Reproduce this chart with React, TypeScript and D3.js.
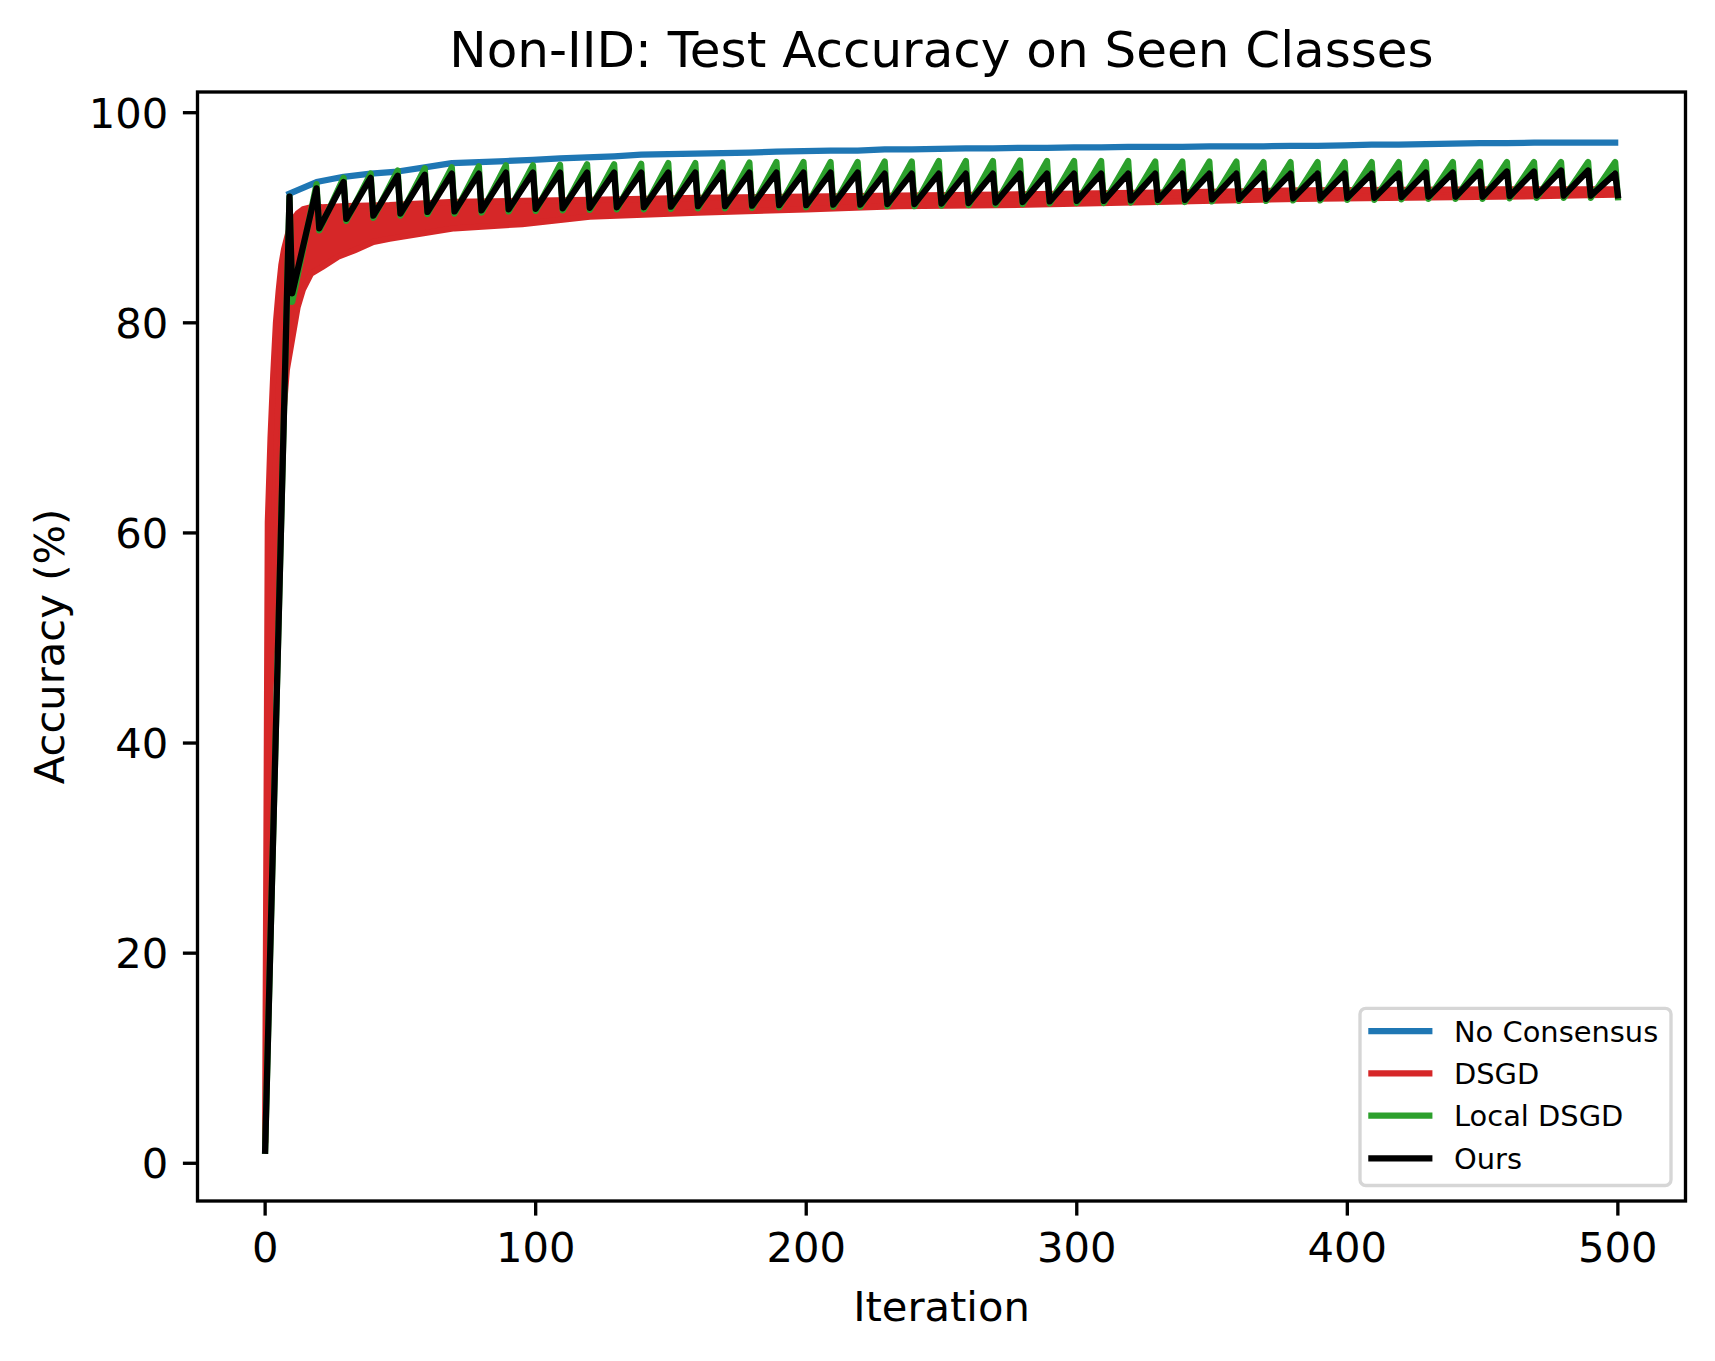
import React from "react";
import * as d3 from "d3";

// ---------------- data ----------------
const xTicks = [0, 100, 200, 300, 400, 500];
const yTicks = [0, 20, 40, 60, 80, 100];

// No Consensus: evaluated at iterations 9, 19, ..., 499
const noConsensus = [
  92.3, 93.4, 93.9, 94.2, 94.4, 94.8, 95.2, 95.3, 95.4, 95.5,
  95.65, 95.75, 95.85, 96.0, 96.05, 96.1, 96.15, 96.2, 96.3, 96.35,
  96.4, 96.4, 96.5, 96.5, 96.55, 96.6, 96.6, 96.65, 96.65, 96.7,
  96.7, 96.75, 96.75, 96.75, 96.8, 96.8, 96.8, 96.85, 96.85, 96.9,
  96.95, 96.95, 97.0, 97.05, 97.1, 97.1, 97.15, 97.15, 97.15, 97.15,
];

// DSGD band (upper / lower envelope)
const dsgdUpperIter = [0, 1, 2, 3, 4, 5, 6, 7, 8, 9, 10, 12, 14, 17, 21, 30, 46, 70, 95, 120, 160, 200, 234, 271, 330, 382, 420, 456, 499];
const dsgdUpper = [2, 61, 69, 75, 80, 83, 85.5, 87, 88, 89, 89.7, 90.4, 90.8, 91.0, 91.0, 91.1, 91.2, 91.5, 91.6, 91.7, 91.9, 92.0, 92.1, 92.2, 92.4, 92.6, 92.65, 92.7, 92.7];
const dsgdLowerIter = [0, 2, 4, 6, 8, 10, 12, 14, 17, 21, 27, 33, 40, 46, 58, 70, 95, 120, 160, 200, 234, 271, 330, 382, 456, 499];
const dsgdLower = [2, 45, 60, 69, 75.5, 78.5, 81.5, 83.2, 84.7, 85.3, 86.3, 86.9, 87.7, 88.0, 88.5, 89.0, 89.4, 90.1, 90.5, 90.8, 91.1, 91.2, 91.5, 91.8, 92.0, 92.2];

// Local DSGD: start, peaks at 10k+9, lows at 10k+10
const localStart = 1.2;
const localPeaks = [
  92.0, 93.2, 93.8, 94.2, 94.5, 94.7, 94.8, 94.9, 95.0, 95.0,
  95.05, 95.1, 95.1, 95.15, 95.2, 95.2, 95.25, 95.25, 95.3, 95.3,
  95.3, 95.3, 95.35, 95.35, 95.4, 95.4, 95.4, 95.45, 95.4, 95.4,
  95.4, 95.4, 95.35, 95.35, 95.35, 95.35, 95.3, 95.3, 95.3, 95.3,
  95.3, 95.3, 95.3, 95.3, 95.3, 95.3, 95.3, 95.3, 95.3, 95.3,
];
const localLows = [
  82.0, 88.8, 89.7, 90.0, 90.2, 90.35, 90.4, 90.5, 90.6, 90.65,
  90.7, 90.75, 90.8, 90.8, 90.85, 90.9, 90.9, 90.95, 91.0, 91.0,
  91.05, 91.05, 91.1, 91.1, 91.15, 91.2, 91.25, 91.3, 91.35, 91.4,
  91.4, 91.45, 91.5, 91.5, 91.55, 91.6, 91.6, 91.65, 91.65, 91.7,
  91.7, 91.75, 91.8, 91.8, 91.8, 91.85, 91.9, 91.9, 91.9, 91.95,
];

// Ours: start, peaks at 10k+9, lows at 10k+10
const oursStart = 1.2;
const oursPeaks = [
  92.0, 92.8, 93.4, 93.8, 94.0, 94.1, 94.2, 94.2, 94.3, 94.3,
  94.3, 94.3, 94.3, 94.3, 94.3, 94.3, 94.3, 94.3, 94.3, 94.3,
  94.3, 94.3, 94.2, 94.2, 94.2, 94.2, 94.2, 94.2, 94.2, 94.2,
  94.2, 94.2, 94.2, 94.2, 94.2, 94.2, 94.2, 94.2, 94.2, 94.2,
  94.2, 94.2, 94.3, 94.3, 94.4, 94.4, 94.4, 94.5, 94.5, 94.2,
];
const oursLows = [
  82.8, 89.0, 89.9, 90.2, 90.4, 90.55, 90.6, 90.7, 90.8, 90.85,
  90.9, 90.95, 91.0, 91.0, 91.05, 91.1, 91.1, 91.15, 91.2, 91.2,
  91.25, 91.25, 91.3, 91.3, 91.35, 91.4, 91.45, 91.5, 91.55, 91.6,
  91.6, 91.65, 91.7, 91.7, 91.75, 91.8, 91.8, 91.85, 91.85, 91.9,
  91.9, 91.95, 92.0, 92.0, 92.0, 92.05, 92.1, 92.1, 92.1, 92.15,
];

const seriesNames = ["No Consensus", "DSGD", "Local DSGD", "Ours"];
const seriesColors = ["#1f77b4", "#d62728", "#2ca02c", "#000000"];

// ---------------- layout ----------------
const W = 1715;
const H = 1361;
const L = 197.5, R = 1685.5, T = 92, B = 1201;
const LW = 6.25;
const AXW = 3.33;
const TICK = 14.6;
const FONT = "DejaVu Sans, Verdana, sans-serif";

function sawtooth(start: number, peaks: number[], lows: number[]): [number, number][] {
  const pts: [number, number][] = [[0, start]];
  peaks.forEach((p, k) => {
    pts.push([10 * k + 9, p]);
    pts.push([10 * k + 10, lows[k]]);
  });
  return pts;
}

export default function App() {
  const x = d3.scaleLinear().domain([-25, 525]).range([L, R]);
  const y = d3.scaleLinear().domain([-3.59, 101.97]).range([B, T]);
  const line = d3.line<[number, number]>().x((d) => x(d[0])).y((d) => y(d[1]));

  const bluePts: [number, number][] = noConsensus.map((v, i) => [10 * i + 9, v]);
  const greenPts = sawtooth(localStart, localPeaks, localLows);
  const blackPts = sawtooth(oursStart, oursPeaks, oursLows);

  const upperPts: [number, number][] = dsgdUpperIter.map((it, i) => [it, dsgdUpper[i]]);
  const lowerPts: [number, number][] = dsgdLowerIter.map((it, i) => [it, dsgdLower[i]]);
  const bandPts = upperPts.concat(lowerPts.slice().reverse());
  const bandPath = line(bandPts) + "Z";

  const legX = 1360, legY = 1008.3, legW = 311, legH = 177.2;
  const rowBase = [1041.7, 1083.8, 1126.2, 1168.8];

  return (
    <svg
      width={W}
      height={H}
      style={{ position: "absolute", left: 0, top: 0, background: "#fff" }}
      fontFamily={FONT}
    >
      <rect x={0} y={0} width={W} height={H} fill="#fff" />
      <defs>
        <clipPath id="plotclip">
          <rect x={L} y={T} width={R - L} height={B - T} />
        </clipPath>
      </defs>

      <g clipPath="url(#plotclip)" fill="none" strokeLinejoin="round" strokeLinecap="square" strokeWidth={LW}>
        <path d={line(bluePts) || ""} stroke={seriesColors[0]} />
        <path d={bandPath} stroke={seriesColors[1]} fill={seriesColors[1]} />
        <path d={line(greenPts) || ""} stroke={seriesColors[2]} />
        <path d={line(blackPts) || ""} stroke={seriesColors[3]} />
      </g>

      {/* spines */}
      <rect x={L} y={T} width={R - L} height={B - T} fill="none" stroke="#000" strokeWidth={AXW} />

      {/* x ticks */}
      {xTicks.map((t) => (
        <g key={"xt" + t}>
          <line x1={x(t)} x2={x(t)} y1={B} y2={B + TICK} stroke="#000" strokeWidth={AXW} />
          <text x={x(t)} y={1261.5} textAnchor="middle" fontSize={41.67} fill="#000">
            {t}
          </text>
        </g>
      ))}
      {/* y ticks */}
      {yTicks.map((t) => (
        <g key={"yt" + t}>
          <line x1={L - TICK} x2={L} y1={y(t)} y2={y(t)} stroke="#000" strokeWidth={AXW} />
          <text x={L - 2 * TICK} y={y(t) + 15.2} textAnchor="end" fontSize={41.67} fill="#000">
            {t}
          </text>
        </g>
      ))}

      {/* labels */}
      <text x={(L + R) / 2} y={1321} textAnchor="middle" fontSize={41.67} fill="#000">
        Iteration
      </text>
      <text
        transform={`translate(64, ${(T + B) / 2}) rotate(-90)`}
        textAnchor="middle"
        fontSize={41.67}
        fill="#000"
      >
        Accuracy (%)
      </text>
      <text x={(L + R) / 2} y={67} textAnchor="middle" fontSize={50} fill="#000">
        Non-IID: Test Accuracy on Seen Classes
      </text>

      {/* legend */}
      <rect x={legX} y={legY} width={legW} height={legH} rx={5.8} ry={5.8} fill="#fff" fillOpacity={0.8} stroke="#d6d6d6" strokeWidth={AXW} />
      {seriesNames.map((name, i) => (
        <g key={name}>
          <line
            x1={1371.4}
            x2={1429.3}
            y1={rowBase[i] - 10.5}
            y2={rowBase[i] - 10.5}
            stroke={seriesColors[i]}
            strokeWidth={LW}
            strokeLinecap="square"
          />
          <text x={1454} y={rowBase[i]} fontSize={28.9} fill="#000">
            {name}
          </text>
        </g>
      ))}
    </svg>
  );
}
